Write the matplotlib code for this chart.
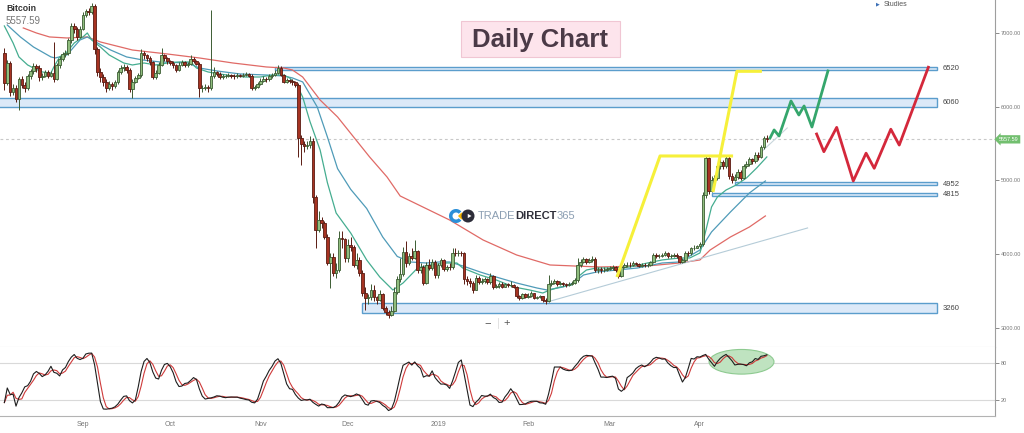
import matplotlib.pyplot as plt
import matplotlib.patches as mpatches
from matplotlib.lines import Line2D
from matplotlib import font_manager
import numpy as np
import pandas as pd

plt.rcParams['font.family'] = ['Liberation Sans', 'DejaVu Sans']

# ---------------- data (daily candles, 2018-08-05 .. 2019-04-24) ----------------
first_open = 6730
close_aug = [6320, 6590, 6200, 6260, 6100, 6370, 6300, 6250, 6420, 6480, 6550, 6520, 6400, 6420,
             6470, 6420, 6460, 6380, 6560, 6650, 6710, 6730, 6900, 7100, 7060, 6950, 7060]
high_aug = [6800, 6640, 6620, 6310, 6290, 6400, 6410, 6340, 6450, 6510, 6590, 6580, 6560, 6460,
            6500, 6500, 6490, 6880, 6590, 6690, 6740, 6770, 6930, 7130, 7140, 7080, 7090]
low_aug = [6230, 6290, 6150, 6160, 6060, 5960, 6250, 6200, 6220, 6380, 6440, 6470, 6350, 6360,
           6400, 6390, 6400, 6330, 6360, 6520, 6620, 6680, 6700, 6870, 7000, 6900, 6930]

close_sep = [7250, 7300, 7280, 7370, 6780, 6470, 6400, 6330, 6250, 6310, 6280, 6330, 6470, 6520, 6540,
             6500, 6240, 6340, 6390, 6430, 6730, 6700, 6660, 6600, 6400, 6460, 6570, 6700, 6660, 6620]
high_sep = [7280, 7330, 7340, 7400, 7390, 6810, 6520, 6440, 6380, 6350, 6330, 6360, 6500, 6560, 6580,
            6560, 6520, 6370, 6420, 6460, 6780, 6760, 6720, 6690, 6620, 6500, 6600, 6800, 6720, 6670]
low_sep = [7040, 7210, 7240, 7260, 6720, 6420, 6330, 6280, 6200, 6220, 6230, 6250, 6310, 6440, 6490,
           6460, 6200, 6120, 6320, 6370, 6400, 6650, 6620, 6560, 6380, 6380, 6440, 6550, 6620, 6580]

close_oct = [6590, 6560, 6500, 6570, 6600, 6560, 6580, 6650, 6620, 6580, 6250, 6260, 6270, 6250, 6420, 6470,
             6450, 6400, 6410, 6420, 6430, 6420, 6410, 6430, 6420, 6430, 6440, 6420, 6260, 6270, 6310]
high_oct = [6640, 6620, 6580, 6600, 6630, 6620, 6610, 6700, 6670, 6630, 6600, 6300, 6310, 6300, 7310, 6540,
            6490, 6470, 6440, 6450, 6460, 6450, 6440, 6460, 6450, 6460, 6470, 6460, 6440, 6300, 6340]
low_oct = [6560, 6530, 6470, 6480, 6550, 6540, 6540, 6560, 6590, 6560, 6130, 6200, 6230, 6200, 6230, 6390,
           6420, 6380, 6370, 6390, 6400, 6390, 6380, 6390, 6400, 6400, 6410, 6400, 6230, 6220, 6250]

close_nov = [6350, 6380, 6370, 6420, 6430, 6460, 6530, 6430, 6340, 6360, 6350, 6330, 6300, 5580, 5490,
             5470, 5480, 5540, 4780, 4330, 4470, 4420, 4240, 3880, 3960, 3740, 3790, 4220, 4200, 3950]
high_nov = [6390, 6410, 6400, 6450, 6460, 6500, 6560, 6550, 6450, 6390, 6380, 6370, 6350, 6320, 5620,
            5530, 5540, 5600, 5570, 4800, 4580, 4500, 4450, 4270, 4010, 4020, 3880, 4310, 4320, 4220]
low_nov = [6300, 6330, 6340, 6350, 6390, 6410, 6440, 6410, 6320, 6320, 6320, 6300, 6270, 5320, 5210,
           5380, 5420, 5440, 4700, 4080, 4300, 4360, 4200, 3850, 3540, 3700, 3680, 3760, 4080, 3900]

close_dec = [4130, 4100, 3860, 3920, 3740, 3480, 3400, 3420, 3520, 3420, 3380, 3460, 3270, 3210, 3180, 3230,
             3490, 3660, 3730, 4030, 3880, 3980, 3950, 4050, 3790, 3820, 3610, 3860, 3810, 3900, 3720]
high_dec = [4200, 4230, 4120, 4020, 3960, 3780, 3560, 3460, 3600, 3580, 3440, 3520, 3480, 3300, 3240, 3300,
            3560, 3700, 3950, 4100, 4180, 4020, 4080, 4190, 4060, 3880, 3850, 3900, 3940, 3940, 3920]
low_dec = [3900, 4040, 3820, 3800, 3700, 3430, 3250, 3320, 3380, 3360, 3330, 3360, 3250, 3180, 3140, 3160,
           3220, 3460, 3620, 3700, 3830, 3850, 3920, 3930, 3740, 3740, 3580, 3590, 3780, 3790, 3680]

close_jan = [3860, 3920, 3800, 3830, 3820, 4020, 4010, 4020, 4010, 3660, 3640, 3610, 3520, 3680, 3620, 3640,
             3660, 3620, 3700, 3560, 3570, 3590, 3560, 3590, 3580, 3580, 3560, 3430, 3410, 3460, 3420]
high_jan = [3880, 3950, 3930, 3850, 3880, 4080, 4090, 4060, 4050, 4030, 3700, 3680, 3640, 3720, 3700, 3680,
            3690, 3680, 3750, 3720, 3600, 3620, 3620, 3610, 3610, 3640, 3600, 3570, 3450, 3480, 3480]
low_jan = [3680, 3830, 3770, 3770, 3790, 3800, 3970, 3980, 3980, 3600, 3580, 3560, 3480, 3510, 3590, 3600,
           3610, 3600, 3600, 3530, 3540, 3540, 3540, 3550, 3560, 3560, 3540, 3400, 3380, 3390, 3400]

close_feb = [3440, 3470, 3410, 3420, 3430, 3380, 3360, 3600, 3610, 3640, 3600, 3610, 3600, 3580,
             3600, 3610, 3650, 3860, 3900, 3930, 3900, 3920, 3940, 3790, 3800, 3780, 3790, 3800]
high_feb = [3470, 3500, 3480, 3440, 3450, 3440, 3400, 3720, 3650, 3670, 3650, 3640, 3630, 3610,
            3630, 3640, 3680, 3950, 3940, 3960, 3950, 3950, 3970, 3960, 3830, 3820, 3820, 3830]
low_feb = [3400, 3420, 3390, 3390, 3400, 3350, 3330, 3350, 3570, 3590, 3570, 3580, 3570, 3550,
           3570, 3580, 3600, 3630, 3830, 3880, 3870, 3880, 3900, 3760, 3740, 3750, 3760, 3770]

close_mar = [3810, 3820, 3790, 3700, 3820, 3850, 3860, 3850, 3880, 3870, 3840, 3860, 3850, 3860, 3890, 3990,
             3970, 3980, 3990, 4010, 3970, 3980, 3990, 3970, 3900, 3920, 4020, 4010, 4080, 4090, 4110]
high_mar = [3840, 3850, 3840, 3800, 3840, 3880, 3890, 3900, 3910, 3900, 3880, 3880, 3880, 3880, 3910, 4020,
            4010, 4000, 4020, 4040, 4030, 4000, 4010, 4010, 3980, 3950, 4040, 4050, 4100, 4120, 4130]
low_mar = [3780, 3790, 3760, 3680, 3690, 3810, 3830, 3820, 3840, 3850, 3820, 3820, 3830, 3830, 3840, 3880,
           3950, 3950, 3960, 3970, 3950, 3950, 3960, 3950, 3880, 3880, 3900, 3980, 3990, 4060, 4080]

close_apr = [4140, 4800, 5300, 4860, 5010, 5040, 5190, 5250, 5200, 5310, 5060, 5010,
             5050, 5120, 5040, 5190, 5220, 5290, 5260, 5350, 5320, 5450, 5570, 5558]
high_apr = [4170, 4850, 5340, 5320, 5060, 5080, 5220, 5300, 5280, 5340, 5330, 5100,
            5090, 5150, 5140, 5220, 5260, 5320, 5310, 5380, 5380, 5480, 5600, 5620]
low_apr = [4090, 4110, 4760, 4820, 4840, 4970, 5000, 5160, 5150, 5170, 5020, 4960,
           4990, 5020, 5000, 5020, 5170, 5200, 5230, 5240, 5280, 5300, 5430, 5520]

last_price = 5557.59

# moving averages (days from 2018-09-01, price)
fast_day = [-27, -24, -22, -19, -17, -14, -11, -10, -8, -5.5, -3, 0, 1.5, 3, 6, 9, 14, 17, 21, 25,
            29, 33, 37, 39, 43, 47, 51.5, 56, 61, 65, 69, 71, 73.5, 75.5, 78, 81.5, 84, 87, 92, 97.5,
            102, 106.5, 110, 115, 119, 125, 128.5, 130.5, 136.5, 142, 148, 153.5, 158, 160.5, 164, 168,
            170, 173, 176.5, 182, 188, 194, 199, 205, 208.5, 212, 213, 214.5, 216, 218, 221, 224.5, 228,
            231.5, 235]
fast_val = [7095, 6864, 6675, 6566, 6525, 6471, 6458, 6539, 6675, 6742, 6864, 6946, 7000, 6905, 6810,
            6702, 6593, 6566, 6593, 6566, 6593, 6607, 6607, 6525, 6471, 6444, 6417, 6403, 6403, 6430,
            6430, 6390, 6295, 6132, 5800, 5413, 4970, 4559, 4288, 3922, 3691, 3515, 3610, 3813, 3854,
            3881, 3881, 3813, 3718, 3651, 3556, 3515, 3474, 3515, 3556, 3583, 3691, 3786, 3813, 3813,
            3827, 3881, 3922, 3949, 3949, 4017, 4152, 4397, 4641, 4776, 4871, 4939, 5034, 5169, 5319]
slow_day = [-26, -21.5, -17, -11, -9.5, -5.5, -1, 1.5, 5, 9.5, 15, 20.5, 26.5, 36, 40, 46, 54, 63, 69,
            72, 75.5, 80.5, 84, 87.5, 92, 97.5, 103, 108, 112.5, 118, 122.5, 126, 130.5, 136.5, 142,
            149, 156, 159.5, 165, 168.5, 172, 176.5, 183.5, 190.5, 199, 205, 212, 216, 222.5, 229, 234.5]
slow_val = [7108, 6946, 6810, 6675, 6661, 6702, 6905, 6946, 6864, 6769, 6675, 6634, 6607, 6593, 6525,
            6485, 6444, 6430, 6417, 6390, 6336, 5997, 5590, 5160, 4880, 4620, 4234, 3970, 3895, 3881,
            3895, 3895, 3841, 3759, 3691, 3610, 3542, 3515, 3556, 3610, 3718, 3759, 3786, 3813, 3881,
            3895, 4057, 4302, 4573, 4830, 4993]
long_day = [-20.5, -16, -11.5, -5.5, 1.5, 6, 17, 29, 40, 51.5, 63, 69, 72, 75.5, 81.5, 87.5, 93, 98.5,
            104.5, 109, 117.5, 126, 137.5, 149, 160.5, 168.5, 177.5, 194, 205, 212, 215.5, 222.5, 229, 234.5]
long_val = [7068, 7000, 6946, 6932, 6946, 6878, 6769, 6715, 6661, 6593, 6539, 6525, 6498, 6403, 6091,
            5861, 5590, 5319, 5047, 4790, 4627, 4464, 4193, 3990, 3854, 3841, 3827, 3841, 3881, 3922,
            4057, 4234, 4369, 4519]

trend_day = [159.5, 249]
trend_val = [3352, 4356]
trend2_day = [229, 242]
trend2_val = [5237, 5712]

# support / resistance zones
zone_low = [6500, 6000, 4935, 4795, 3200]
zone_high = [6545, 6120, 4985, 4835, 3340]
zone_start = [66, -30, 224, 216, 96]
zone_end = 293.5
zone_level = [6520, 6060, 4952, 4815, 3260]

# drawn scenarios
yellow1_day = [183.5, 198.3, 223.4]
yellow1_val = [3691, 5332, 5332]
yellow2_day = [216.5, 224.7, 233.3]
yellow2_val = [4844, 6480, 6480]
green_day = [236.1, 237.5, 239.2, 243.3, 246.0, 247.8, 250.5, 256.0]
green_val = [5576, 5685, 5603, 6078, 5888, 6010, 5725, 6485]
red_day = [252.1, 254.6, 259.0, 264.7, 269.1, 271.9, 277.6, 280.5, 290.5]
red_val = [5630, 5390, 5720, 4993, 5370, 5165, 5695, 5480, 6535]

price_ticks = [3000, 4000, 5000, 6000, 7000]
month_starts = ['2018-09-01', '2018-10-01', '2018-11-01', '2018-12-01',
                '2019-01-01', '2019-02-01', '2019-03-01', '2019-04-01']
month_labels = ['Sep', 'Oct', 'Nov', 'Dec', '2019', 'Feb', 'Mar', 'Apr']

# ---------------- frame ----------------
closes = close_aug + close_sep + close_oct + close_nov + close_dec + close_jan + close_feb + close_mar + close_apr
highs = high_aug + high_sep + high_oct + high_nov + high_dec + high_jan + high_feb + high_mar + high_apr
lows = low_aug + low_sep + low_oct + low_nov + low_dec + low_jan + low_feb + low_mar + low_apr

base = pd.Timestamp('2018-09-01')
dates = pd.date_range('2018-08-05', periods=len(closes), freq='D')
df = pd.DataFrame({'close': closes, 'high': highs, 'low': lows}, index=dates)
df['open'] = [first_open] + closes[:-1]
day = np.asarray((dates - base).days, dtype=float)

# stochastic 14,3,3
hh = df['high'].rolling(14, min_periods=1).max()
ll = df['low'].rolling(14, min_periods=1).min()
k_fast = 100 * (df['close'] - ll) / (hh - ll)
stoch_k = k_fast.rolling(3, min_periods=1).mean()
stoch_d = stoch_k.rolling(3, min_periods=1).mean()

W, H = 1024, 433
fig = plt.figure(figsize=(W / 100, H / 100), dpi=100)
ax = fig.add_axes([0, 1 - 347 / H, 995 / W, 347 / H])
axs = fig.add_axes([0, 1 - 416 / H, 995 / W, 69 / H], sharex=ax)

ax.set_xlim(-28.5, 313.4)
ax.set_ylim(2742, 7447)
axs.set_ylim(-6, 106)

# zones
for lo, hi, st in zip(zone_low, zone_high, zone_start):
    ax.add_patch(mpatches.Rectangle((st, lo), zone_end - st, hi - lo, fc='#dce9f8',
                                    ec='#5b9dcc', lw=1.0, zorder=1))
for lv in zone_level:
    ax.text(zone_end + 2, lv, str(lv), fontsize=5.5, color='#444444', va='center', zorder=6)

ax.axhline(last_price, color='#c8c8c8', lw=0.8, ls=(0, (2.5, 2.5)), zorder=0.5)

# moving averages + trend lines
ax.plot(long_day, long_val, color='#e06a66', lw=0.9, zorder=2)
ax.plot(slow_day, slow_val, color='#4f9bb8', lw=0.9, zorder=2)
ax.plot(fast_day, fast_val, color='#45ad90', lw=0.9, zorder=2)
ax.plot(trend_day, trend_val, color='#b5ccd8', lw=0.8, zorder=2)
ax.plot(trend2_day, trend2_val, color='#c9d6dc', lw=0.8, zorder=2)

# candles
o = df['open'].values
c = df['close'].values
up = c >= o
edge = np.where(up, '#3c5c33', '#5a1b12')
fill = np.where(up, '#8fbd7e', '#a63322')
ax.vlines(day, df['low'].values, df['high'].values, colors=edge, lw=0.7, zorder=3)
ax.bar(day, np.abs(c - o), bottom=np.minimum(o, c), width=0.9, color=fill,
       edgecolor=edge, linewidth=0.6, zorder=4)

# scenario drawings
ax.plot(yellow1_day, yellow1_val, color='#f6f03a', lw=2.2, zorder=5, solid_capstyle='butt')
ax.plot(yellow2_day, yellow2_val, color='#f6f03a', lw=2.2, zorder=5, solid_capstyle='butt')
ax.plot(green_day, green_val, color='#35a66c', lw=2.0, zorder=5)
ax.plot(red_day, red_val, color='#d4283b', lw=2.0, zorder=5)

# price axis
ax.yaxis.tick_right()
ax.set_yticks(price_ticks)
ax.set_yticklabels([f'{t:.2f}' for t in price_ticks])
ax.tick_params(axis='y', labelsize=4, colors='#777777', length=3, width=0.6, pad=1)
ax.tick_params(axis='x', bottom=False, labelbottom=False)
for s in ['left', 'top']:
    ax.spines[s].set_visible(False)
ax.spines['bottom'].set_color('#d6d6d6')
ax.spines['right'].set_color('#9e9e9e')
ax.spines['right'].set_linewidth(0.8)

ax.text(1.004, last_price, f'{last_price:.2f}', transform=ax.get_yaxis_transform(), fontsize=4,
        color='white', va='center', ha='left', clip_on=False, zorder=10,
        bbox=dict(boxstyle='larrow,pad=0.3', fc='#72bf6f', ec='none'))

# stochastic pane
axs.add_patch(mpatches.Ellipse((226.3, 82), 22.3, 40, fc='#bfe3c0', ec='#8dca90', lw=0.8, zorder=1))
axs.axhline(80, color='#d9d9d9', lw=0.8, zorder=0)
axs.axhline(20, color='#d9d9d9', lw=0.8, zorder=0)
axs.plot(day, stoch_d.values, color='#cf3b3b', lw=0.8, zorder=3)
axs.plot(day, stoch_k.values, color='#1e1e1e', lw=0.8, zorder=4)
axs.yaxis.tick_right()
axs.set_yticks([20, 80])
axs.tick_params(axis='y', labelsize=4, colors='#777777', length=3, width=0.6, pad=1)
axs.set_xticks([(pd.Timestamp(m) - base).days for m in month_starts])
axs.set_xticklabels(month_labels)
axs.tick_params(axis='x', labelsize=5, colors='#777777', length=0, pad=3.5)
for s in ['left', 'top']:
    axs.spines[s].set_visible(False)
axs.spines['bottom'].set_color('#b3b3b3')
axs.spines['right'].set_color('#9e9e9e')
axs.spines['right'].set_linewidth(0.8)

# ---------------- overlay texts ----------------
fig.text(6 / W, 1 - 8.5 / H, 'Bitcoin', fontsize=6.3, weight='bold', color='#333333', va='center')
fig.text(6 / W, 1 - 21.5 / H, f'{last_price:.2f}', fontsize=7, color='#777777', va='center')
fig.text(876 / W, 1 - 4 / H, '\u25b6', fontsize=3.5, color='#3b6fb6', va='center',
         family=['DejaVu Sans'])
fig.text(884 / W, 1 - 4 / H, 'Studies', fontsize=5, color='#555555', va='center')

fig.add_artist(mpatches.Rectangle((461 / W, 1 - 57 / H), 159 / W, 36 / H, transform=fig.transFigure,
                                  fc='#fde4ec', ec='#f0c6d3', lw=0.8))
fig.text(540.5 / W, 1 - 39.5 / H, 'Daily Chart', ha='center', va='center', fontsize=18.5,
         weight='bold', color='#4b3a47')


def inch(x, y):
    return (x / 100, (H - y) / 100)


tr = fig.dpi_scale_trans
fig.add_artist(mpatches.Wedge(inch(456, 216), 0.07, 40, 320, width=0.035, fc='#2b8fd8', ec='none', transform=tr))
fig.add_artist(mpatches.RegularPolygon(inch(461.5, 216), 4, radius=0.035, fc='#f4b400', ec='none', transform=tr))
fig.add_artist(mpatches.Circle(inch(468, 216), 0.065, fc='#2c2c38', ec='none', transform=tr))
fig.add_artist(mpatches.RegularPolygon(inch(469, 216), 3, radius=0.025, orientation=-np.pi / 2,
                                       fc='white', ec='none', transform=tr))

try:
    font_manager.findfont('Liberation Sans Narrow', fallback_to_default=False)
    logo_family, logo_fs = ['Liberation Sans Narrow', 'DejaVu Sans'], 9.5
except ValueError:
    logo_family, logo_fs = ['Liberation Sans', 'DejaVu Sans'], 8

renderer = fig.canvas.get_renderer()
x0 = 478
for part, wt, col in [('TRADE', 'normal', '#8c9fb3'), ('DIRECT', 'bold', '#2f2f3a'), ('365', 'normal', '#8c9fb3')]:
    t = fig.text(x0 / W, 1 - 216 / H, part, fontsize=logo_fs, weight=wt, color=col, va='center',
                 family=logo_family)
    x0 += t.get_window_extent(renderer).width

fig.text(488 / W, 1 - 323 / H, '\u2212', fontsize=8, color='#555555', ha='center', va='center')
fig.text(507 / W, 1 - 323 / H, '+', fontsize=8, color='#555555', ha='center', va='center')
fig.add_artist(Line2D([498 / W, 498 / W], [1 - 318 / H, 1 - 328 / H], color='#dddddd', lw=0.6))

fig.savefig('out.png', dpi=100)
